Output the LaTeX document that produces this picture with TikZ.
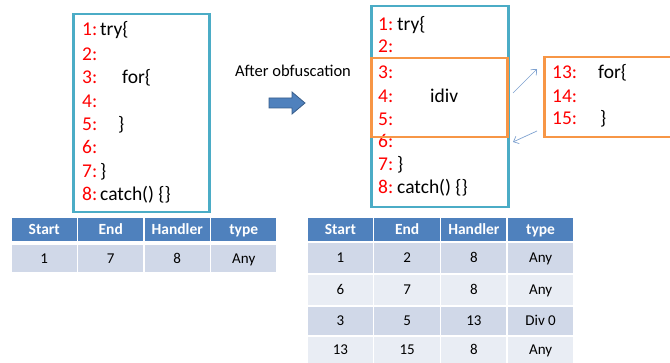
\documentclass[tikz,border=0pt]{standalone}
\usepackage{fontspec}
\setmainfont{Carlito}
\usetikzlibrary{positioning,arrows.meta}

\definecolor{boxteal}{HTML}{4BACC6}
\definecolor{boxorange}{HTML}{F79646}
\definecolor{headblue}{HTML}{4F81BD}
\definecolor{headedge}{HTML}{385D8A}
\definecolor{rowdark}{HTML}{D0D8E8}
\definecolor{rowlight}{HTML}{E9EDF4}
\definecolor{jumpblue}{HTML}{7EA1D0}

\tikzset{
  codebox/.style={draw=boxteal, line width=2.5pt, inner sep=0pt, anchor=north west},
  blockbox/.style={draw=boxorange, line width=2.5pt, inner sep=0pt, anchor=north west},
  lnum/.style={text=red, font=\fontsize{19.5}{19.5}\selectfont, anchor=west, inner sep=0pt, text height=12pt, text depth=0pt},
  code/.style={lnum, text=black},
  cell/.style={font=\fontsize{15}{15}\selectfont, draw=white, line width=1.5pt, inner sep=0pt, text height=10pt, text depth=0pt, minimum width=66.5pt},
  headcell/.style={cell, fill=headblue, text=white, font=\fontsize{15.5}{15.5}\selectfont\bfseries, minimum height=25pt},
  jump/.style={-{Straight Barb[length=4.5pt, width=8pt]}, jumpblue, line width=0.7pt}
}

\begin{document}
\begin{tikzpicture}[x=1pt, y=-1pt]
        \useasboundingbox (0,0) rectangle (670,363);

        % Original code
        \node[codebox, minimum width=136pt, minimum height=198pt] (oldcode) at (72,13) {};
        \foreach \n/\y in {1/30,2/55,3/78,4/102,5/125,6/148,7/172,8/195}
            \node[lnum] (ol\n) at (82,\y) {\n:};
        \node[code] at (100,30) {try\{};
        \node[code] at (122,78) {for\{};
        \node[code] at (118,125) {\}};
        \node[code] at (100,172) {\}};
        \node[code] at (100,195) {catch() \{\}};

        % Obfuscation step
        \node[font=\fontsize{16.5}{16.5}\selectfont, inner sep=0pt] (step) at (293,71) {After obfuscation};
        \draw[fill=headblue, draw=headedge, line width=0.8pt]
            (269,98) -- (292,98) -- (292,92) -- (305,103) -- (292,114) -- (292,108) -- (269,108) -- cycle;

        % Obfuscated code
        \node[codebox, minimum width=137pt, minimum height=201pt] (newcode) at (370,5) {};
        \foreach \n/\y in {1/25,2/47,3/73,4/97,5/120,6/142,7/165,8/188}
            \node[lnum] (nl\n) at (378,\y) {\n:};
        \node[code] at (397,25) {try\{};
        \node[code] at (430,97) {idiv};
        \node[code] at (397,165) {\}};
        \node[code] at (397,188) {catch() \{\}};
        \node[blockbox, minimum width=136pt, minimum height=79pt] (trybody) at (370,57) {};

        % Handler block
        \begin{scope}
            \clip (0,0) rectangle (670,363);
            \node[blockbox, minimum width=140pt, minimum height=80pt] (handler) at (543,56) {};
        \end{scope}
        \foreach \n/\y in {13/73,14/97,15/119}
            \node[lnum] (hl\n) at (552,\y) {\n:};
        \node[code] at (598,73) {for\{};
        \node[code] at (600,119) {\}};

        \coordinate (throw) at (513,93);
        \coordinate (catch) at (537,69);
        \coordinate (back) at (537,131);
        \coordinate (resume) at (513,142);
        \draw[jump] (throw) -- (catch);
        \draw[jump] (back) -- (resume);

        % Exception table before
        \foreach \t [count=\i] in {Start,End,Handler,type}
            \node[headcell] (lh\i) at ({-22.25+66.5*\i},229.5) {\t};
        \foreach \t [count=\i] in {1,7,8,Any}
            \node[cell, fill=rowdark, minimum height=29pt] (lr\i) at ({-22.25+66.5*\i},258.5) {\t};

        % Exception table after
        \foreach \t [count=\i] in {Start,End,Handler,type}
            \node[headcell, minimum width=66.75pt] (rh\i) at ({273.6+66.75*\i},229.5) {\t};
        \foreach \row/\y/\h/\c [count=\r] in {{1,2,8,Any}/258/32/rowdark, {6,7,8,Any}/290/32/rowlight,
                                              {3,5,13,Div 0}/321/30/rowdark, {13,15,8,Any}/350/28/rowlight}
            \foreach \t [count=\i] in \row
                \node[cell, fill=\c, minimum height=\h pt, minimum width=66.75pt] (r\r c\i) at ({273.6+66.75*\i},\y) {\t};
    \end{tikzpicture}
\end{document}
